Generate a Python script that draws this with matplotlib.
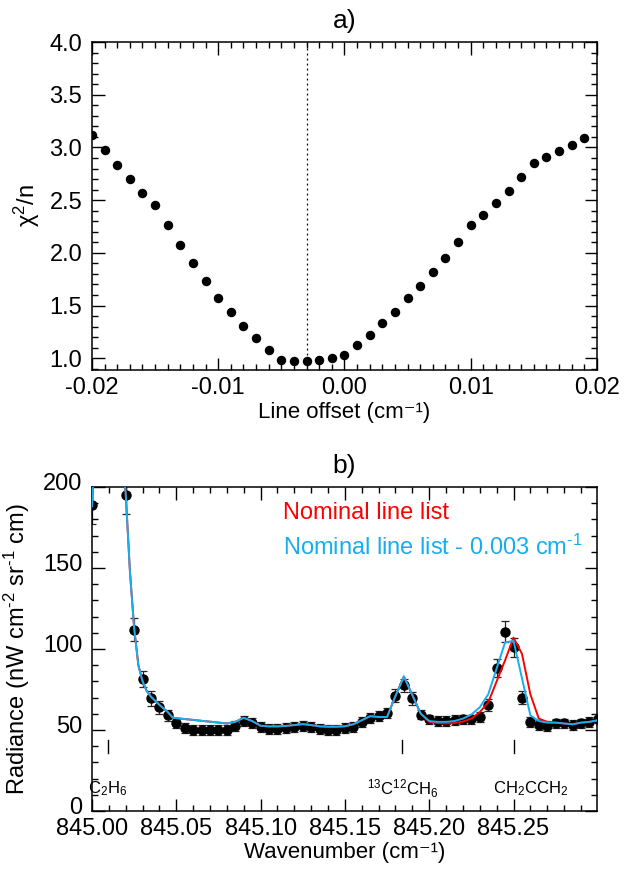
import matplotlib
matplotlib.use("Agg")
import matplotlib.pyplot as plt
import matplotlib.transforms as mtransforms
from matplotlib.ticker import MultipleLocator, FixedLocator, FormatStrFormatter

plt.rcParams['font.family'] = ['Liberation Sans', 'DejaVu Sans']
plt.rcParams['mathtext.fontset'] = 'custom'
plt.rcParams['mathtext.rm'] = 'Liberation Sans'
plt.rcParams['mathtext.it'] = 'Liberation Sans:italic'
plt.rcParams['mathtext.bf'] = 'Liberation Sans:bold'

# ---- panel a: chi^2/n vs line offset
offset = [-0.020, -0.019, -0.018, -0.017, -0.016, -0.015, -0.014, -0.013, -0.012, -0.011,
          -0.010, -0.009, -0.008, -0.007, -0.006, -0.005, -0.004, -0.003, -0.002, -0.001,
          0.000, 0.001, 0.002, 0.003, 0.004, 0.005, 0.006, 0.007, 0.008, 0.009,
          0.010, 0.011, 0.012, 0.013, 0.014, 0.015, 0.016, 0.017, 0.018, 0.019]
chi2n = [3.12, 2.975, 2.83, 2.70, 2.57, 2.45, 2.26, 2.075, 1.90, 1.73,
         1.575, 1.437, 1.31, 1.195, 1.08, 0.984, 0.978, 0.978, 0.987, 1.003,
         1.035, 1.126, 1.22, 1.33, 1.443, 1.572, 1.69, 1.82, 1.95, 2.10,
         2.26, 2.36, 2.47, 2.59, 2.72, 2.855, 2.91, 2.965, 3.025, 3.09]
best_offset = -0.003

# ---- panel b: spectrum
wn = [845.000, 845.020, 845.025, 845.030, 845.035, 845.040, 845.045, 845.050, 845.055, 845.060,
      845.065, 845.070, 845.075, 845.080, 845.085, 845.090, 845.095, 845.100, 845.105, 845.110,
      845.115, 845.120, 845.125, 845.130, 845.135, 845.140, 845.145, 845.150, 845.155, 845.160,
      845.165, 845.170, 845.175, 845.180, 845.185, 845.190, 845.195, 845.200, 845.205, 845.210,
      845.215, 845.220, 845.225, 845.230, 845.235, 845.240, 845.245, 845.250, 845.255, 845.260,
      845.265, 845.270, 845.275, 845.280, 845.285, 845.290, 845.295, 845.300]
radiance = [189, 195, 112, 81.5, 69.5, 64, 59, 54, 51, 50,
            50, 50, 50, 50, 52.5, 55.5, 54.5, 52, 50.5, 50.5,
            51, 52, 52.5, 52, 50.5, 49.8, 49.8, 51, 52, 55,
            57.5, 58.5, 60.5, 71, 77.5, 69.5, 59.5, 56.5, 55.5, 55.5,
            56, 56.5, 56.5, 58, 65.5, 88, 110.5, 101, 70, 55,
            53, 52.5, 54, 54, 53, 54, 55, 57]
rad_err = [12, 12, 7, 5, 4.5, 4, 3.5, 3, 3, 3,
           3, 3, 3, 3, 3, 3, 3, 3, 3, 3,
           3, 3, 3, 3, 3, 3, 3, 3, 3, 3,
           3, 3, 3, 4, 4, 4, 3, 3, 3, 3,
           3, 3, 3, 3, 3.6, 5.5, 6.5, 6, 4, 3,
           3, 3, 3, 3, 3, 3, 3, 3]

model_wn = [845.000, 845.002, 845.010, 845.017, 845.019, 845.020, 845.0225, 845.025, 845.0275, 845.030,
            845.0325, 845.035, 845.040, 845.045, 845.048, 845.080, 845.085, 845.090, 845.095, 845.100,
            845.105, 845.110, 845.115, 845.120, 845.125, 845.130, 845.135, 845.140, 845.145, 845.150,
            845.155, 845.160, 845.165, 845.170, 845.175, 845.180, 845.185, 845.190, 845.195, 845.200,
            845.205, 845.210, 845.215, 845.220, 845.225, 845.230, 845.235, 845.240, 845.245, 845.250,
            845.255, 845.260, 845.265, 845.270, 845.275, 845.280, 845.285, 845.290, 845.295, 845.300]
model_shifted = [188, 235, 330, 240, 205, 196, 148, 113, 90, 80,
                 74, 70.5, 65.5, 61, 57.5, 54, 55, 57.5, 55.5, 52.6,
                 52.2, 52.2, 52.5, 53, 53.6, 53, 52.2, 52, 52, 52.3,
                 53.5, 56, 58.5, 58, 58, 71, 83, 71.5, 60, 55.5,
                 55, 55, 55.5, 57, 59.5, 64, 72, 88, 104, 105,
                 82, 59, 55.5, 54.5, 54.5, 54, 53.5, 54.5, 55, 56]
model_nominal = [188, 235, 330, 240, 205, 196, 148, 113, 90, 80,
                 74, 70.5, 65.5, 61, 57.5, 54, 55, 57.5, 55.5, 52.6,
                 52.2, 52.2, 52.5, 53, 53.6, 53, 52.2, 52, 52, 52.3,
                 53.5, 56, 58.5, 58, 58, 71, 83, 71.5, 60, 55,
                 54.2, 54, 54.2, 55.2, 57, 61, 67, 80, 93, 107,
                 97, 72, 57, 55, 54.5, 54, 53.5, 54.5, 55, 56]

species = [r'C$_2$H$_6$', r'$^{13}$C$^{12}$CH$_6$', r'CH$_2$CCH$_2$']
species_wn = [845.0095, 845.184, 845.250]
species_label_wn = [845.0095, 845.184, 845.260]

red = '#ff0000'
blue = '#18aeee'
fs = 17
fs_lab = 16

fig = plt.figure(figsize=(6.24, 8.72), dpi=100)
ax1 = fig.add_axes([0.1474, 0.5757, 0.8093, 0.3761])
ax2 = fig.add_axes([0.1474, 0.0700, 0.8093, 0.3716])


def style(ax):
    ax.tick_params(which='both', direction='in', top=True, right=True,
                   labelsize=fs, width=1.0)
    ax.tick_params(which='major', length=9)
    ax.tick_params(which='minor', length=4.5)
    ax.tick_params(axis='x', pad=5)
    ax.tick_params(axis='y', pad=7)
    for s in ax.spines.values():
        s.set_linewidth(1.1)


# panel a
ax1.plot(offset, chi2n, 'o', color='black', ms=5.8)
ax1.axvline(best_offset, color='black', ls=(0, (1.5, 2.5)), lw=0.9)
ax1.set_xlim(-0.02, 0.02)
ax1.set_ylim(0.889, 4.0)
ax1.xaxis.set_major_locator(MultipleLocator(0.01))
ax1.xaxis.set_minor_locator(MultipleLocator(0.001))
ax1.yaxis.set_major_locator(MultipleLocator(0.5))
ax1.yaxis.set_minor_locator(MultipleLocator(0.1))
ax1.xaxis.set_major_formatter(FormatStrFormatter('%.2f'))
ax1.yaxis.set_major_formatter(FormatStrFormatter('%.1f'))
style(ax1)
ax1.set_xlabel('Line offset (cm⁻¹)', fontsize=fs_lab)
ax1.set_ylabel(r'χ$^2$/n', fontsize=fs)
ax1.xaxis.set_label_coords(0.5, -0.098)
ax1.yaxis.set_label_coords(-0.099, 0.5)
ax1.set_title('a)', fontsize=19, pad=10)

# panel b
ax2.errorbar(wn, radiance, yerr=rad_err, fmt='o', color='black', ms=6.5,
             ecolor='0.15', elinewidth=0.9, capsize=3, capthick=0.9, zorder=2)
ax2.plot(model_wn, model_nominal, color=red, lw=1.4, zorder=3)
ax2.plot(model_wn, model_shifted, color=blue, lw=1.4, zorder=4)
for name, w, lw_ in zip(species, species_wn, species_label_wn):
    ax2.plot([w, w], [36, 44], color='black', lw=1.0)
    ax2.text(lw_, 14, name, fontsize=12, ha='center', va='center')
ax2.text(845.113, 184, 'Nominal line list', color=red, fontsize=fs, va='center')
ax2.text(845.113, 163, r'Nominal line list - 0.003 cm$^{\text{-}1}$', color=blue,
         fontsize=fs, va='center')
ax2.set_xlim(845.0, 845.2995)
ax2.set_ylim(0, 200)
ax2.xaxis.set_major_locator(FixedLocator([845.00, 845.05, 845.10, 845.15, 845.20, 845.25]))
ax2.xaxis.set_minor_locator(MultipleLocator(0.01))
ax2.yaxis.set_major_locator(MultipleLocator(50))
ax2.yaxis.set_minor_locator(MultipleLocator(10))
ax2.xaxis.set_major_formatter(FormatStrFormatter('%.2f'))
style(ax2)
# IDL-style: y tick labels sit slightly above their ticks
shift = mtransforms.ScaledTranslation(0, 4 / 72, fig.dpi_scale_trans)
for lab in ax2.get_yticklabels():
    lab.set_transform(lab.get_transform() + shift)
ax2.set_xlabel('Wavenumber (cm⁻¹)', fontsize=fs_lab)
ax2.set_ylabel(r'Radiance (nW cm$^{\text{-}2}$ sr$^{\text{-}1}$ cm)', fontsize=fs)
ax2.xaxis.set_label_coords(0.5, -0.095)
ax2.yaxis.set_label_coords(-0.119, 0.5)
ax2.set_title('b)', fontsize=19, pad=10)

fig.savefig('out.png', dpi=100)
plt.close(fig)
